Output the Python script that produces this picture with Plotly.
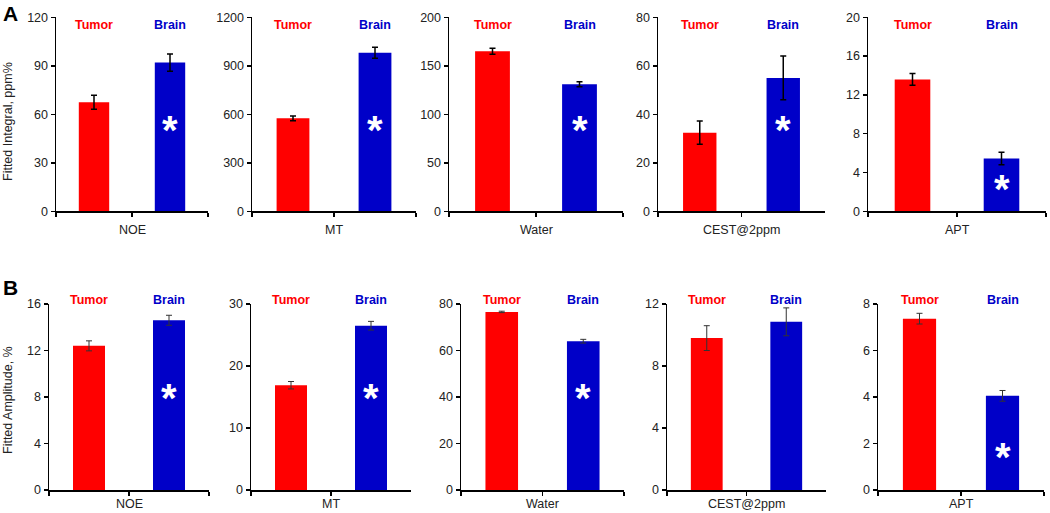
import plotly.graph_objects as go

# ---------------- data ----------------
categories = ["NOE", "MT", "Water", "CEST@2ppm", "APT"]
groups = ["Tumor", "Brain"]

# Panel A: fitted integral (ppm%)
integral_tumor = [67.5, 575, 165, 32.4, 13.6]
integral_tumor_err = [4.3, 15, 3, 4.8, 0.6]
integral_brain = [92, 980, 131, 55, 5.45]
integral_brain_err = [5.3, 34, 2.5, 9, 0.65]
integral_ymax = [120, 1200, 200, 80, 20]
integral_dtick = [30, 300, 50, 20, 4]
integral_sig = [True, True, True, True, True]

# Panel B: fitted amplitude (%)
amp_tumor = [12.4, 16.9, 76.6, 9.8, 7.37]
amp_tumor_err = [0.43, 0.6, 0.3, 0.8, 0.23]
amp_brain = [14.6, 26.5, 64.0, 10.85, 4.05]
amp_brain_err = [0.43, 0.7, 0.8, 0.9, 0.23]
amp_ymax = [16, 30, 80, 12, 8]
amp_dtick = [4, 10, 20, 4, 2]
amp_sig = [True, True, True, False, True]

# ---------------- layout geometry (pixels) ----------------
W, H = 1050, 513
FONT = "Liberation Sans, Arial, sans-serif"
RED = "#FF0000"
BLUE = "#0000C8"

rows = [
    dict(x=[(56, 208), (252, 416), (449, 623), (658, 825), (868, 1046)],
         y=(17.3, 211.3), tumor=integral_tumor, tumor_err=integral_tumor_err,
         brain=integral_brain, brain_err=integral_brain_err, ymax=integral_ymax,
         dtick=integral_dtick, sig=integral_sig, label_y=25.5, cat_y=230,
         err_color="#000000", err_th=1.5,
         star_frac=[0.45, 0.45, 0.45, 0.45, 0.145], letter="A", letter_y=13,
         ytitle="Fitted Integral, ppm%", ytitle_y=122),
    dict(x=[(49, 209), (251, 411), (461, 624), (667, 826), (878, 1044)],
         y=(304, 490), tumor=amp_tumor, tumor_err=amp_tumor_err,
         brain=amp_brain, brain_err=amp_brain_err, ymax=amp_ymax,
         dtick=amp_dtick, sig=amp_sig, label_y=299.5, cat_y=504,
         err_color="#333333", err_th=1.0,
         star_frac=[0.525, 0.525, 0.525, 0.525, 0.21], letter="B", letter_y=287,
         ytitle="Fitted Amplitude, %", ytitle_y=400),
]

fig = go.Figure()
layout = {}
annotations = []

idx = 0
for row in rows:
    y0, y1 = row["y"]
    ydom = [1 - y1 / H, 1 - y0 / H]
    for i, cat in enumerate(categories):
        idx += 1
        xs = "" if idx == 1 else str(idx)
        xref, yref = "x" + xs, "y" + xs
        x0, x1 = row["x"][i]
        fig.add_trace(go.Bar(
            x=groups, y=[row["tumor"][i], row["brain"][i]],
            marker=dict(color=[RED, BLUE], line=dict(width=0)),
            width=0.4,
            error_y=dict(type="data", array=[row["tumor_err"][i], row["brain_err"][i]],
                         color=row["err_color"], thickness=row["err_th"], width=3),
            xaxis=xref, yaxis=yref, showlegend=False, hoverinfo="skip",
        ))
        layout["xaxis" + xs] = dict(
            domain=[x0 / W, x1 / W], anchor=yref, type="category",
            range=[-0.5, 1.5], tickson="boundaries", ticks="outside", ticklen=4,
            tickwidth=1.5, tickcolor="black", showticklabels=False,
            showline=True, linecolor="black", linewidth=1.5, showgrid=False,
            zeroline=False, automargin=False, fixedrange=True,
        )
        layout["yaxis" + xs] = dict(
            domain=ydom, anchor=xref, range=[0, row["ymax"][i]], dtick=row["dtick"][i],
            ticks="outside", ticklen=4, tickwidth=1.5, tickcolor="black",
            showline=True, linecolor="black", linewidth=1.5, showgrid=False,
            zeroline=False, automargin=False, fixedrange=True,
            tickfont=dict(family=FONT, size=12.5, color="#222222"),
        )
        # group labels
        for g, col in zip(groups, [RED, BLUE]):
            annotations.append(dict(
                x=g, xref=xref, y=1 - row["label_y"] / H, yref="paper",
                text="<b>%s</b>" % g, showarrow=False, xanchor="center", yanchor="middle",
                font=dict(family=FONT, size=12.5, color=col),
            ))
        # category label
        annotations.append(dict(
            x=(x0 + x1) / 2 / W, xref="paper", y=1 - row["cat_y"] / H, yref="paper",
            text=cat, showarrow=False, xanchor="center", yanchor="middle",
            font=dict(family=FONT, size=12.5, color="#222222"),
        ))
        # significance asterisk
        if row["sig"][i]:
            annotations.append(dict(
                x="Brain", xref=xref, y=row["star_frac"][i] * row["ymax"][i], yref=yref,
                text="<b>*</b>", showarrow=False, xanchor="center", yanchor="middle",
                yshift=-6,
                font=dict(family=FONT, size=40, color="white"),
            ))
    # panel letter
    annotations.append(dict(
        x=10 / W, xref="paper", y=1 - row["letter_y"] / H, yref="paper",
        text="<b>%s</b>" % row["letter"], showarrow=False, xanchor="center", yanchor="middle",
        font=dict(family=FONT, size=21, color="black"),
    ))
    # y-axis title
    annotations.append(dict(
        x=8 / W, xref="paper", y=1 - row["ytitle_y"] / H, yref="paper",
        text=row["ytitle"], textangle=-90, showarrow=False, xanchor="center", yanchor="middle",
        font=dict(family=FONT, size=12.5, color="#222222"),
    ))

fig.update_layout(
    width=W, height=H, margin=dict(l=0, r=0, t=0, b=0),
    paper_bgcolor="white", plot_bgcolor="white",
    font=dict(family=FONT, size=12.5, color="#222222"),
    annotations=annotations, bargap=0.2,
    **layout,
)

fig.write_html(
    "out.html",
    config={"displayModeBar": False, "staticPlot": True},
    post_script="document.body.style.margin='0';document.body.style.padding='0';"
                "document.body.style.overflow='hidden';",
)
